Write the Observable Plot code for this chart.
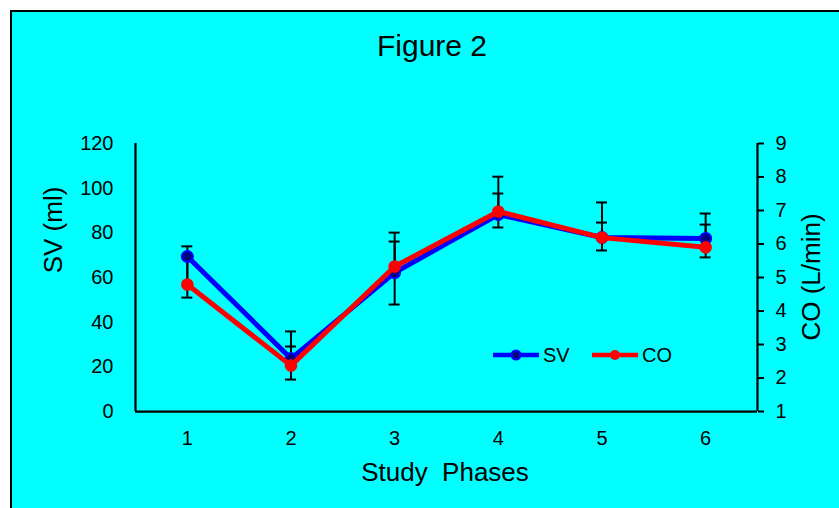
<!DOCTYPE html>
<html>
<head>
<meta charset="utf-8">
<script src="https://cdn.jsdelivr.net/npm/d3@7"></script>
<script src="https://cdn.jsdelivr.net/npm/@observablehq/plot@0.6"></script>
<style>
  html, body { margin: 0; padding: 0; background: #ffffff; overflow: hidden; width: 839px; height: 508px; }
  #bg { position: absolute; left: 10px; top: 10px; width: 900px; height: 600px; border: 2px solid #000; background: #00FFFF; }
  #chart { position: absolute; left: 0; top: 0; }
  text { font-family: "Liberation Sans", Arial, sans-serif; }
</style>
</head>
<body>
<div id="bg"></div>
<div id="chart"></div>
<script>
// ---- data ----
const phases = [1, 2, 3, 4, 5, 6];
const svMean = [69.4, 23.7, 62.2, 88.2, 77.9, 77.5];      // SV (ml)
const svErrUp = [0, 5.4, 13.9, 9.4, 6.7, 6.2];
const svErrDown = [18.4, 9.4, 14.3, 5.8, 5.8, 8.5];
const coMean = [4.79, 2.37, 5.33, 6.97, 6.19, 5.90];      // CO (L/min)
const coErrUp = [1.14, 1.02, 1.01, 1.04, 1.05, 1.01];
const svTicks = [0, 20, 40, 60, 80, 100, 120];
const coTicks = [1, 2, 3, 4, 5, 6, 7, 8, 9];
const seriesNames = ["SV", "CO"];

// CO axis (1..9) mapped onto the SV axis (0..120)
const coMin = coTicks[0], coMax = coTicks[coTicks.length - 1];
const svMin = svTicks[0], svMax = svTicks[svTicks.length - 1];
const toSV = c => svMin + (c - coMin) / (coMax - coMin) * (svMax - svMin);
const fromSV = v => coMin + (v - svMin) / (svMax - svMin) * (coMax - coMin);

const svRows = phases.map((p, i) => ({phase: p, v: svMean[i]}));
const coRows = phases.map((p, i) => ({phase: p, v: toSV(coMean[i])}));

const segs = [];
const caps = [];
phases.forEach((p, i) => {
  if (svErrUp[i] > 0) { segs.push({phase: p, y1: svMean[i], y2: svMean[i] + svErrUp[i]}); caps.push({phase: p, y: svMean[i] + svErrUp[i]}); }
  if (svErrDown[i] > 0) { segs.push({phase: p, y1: svMean[i], y2: svMean[i] - svErrDown[i]}); caps.push({phase: p, y: svMean[i] - svErrDown[i]}); }
  if (coErrUp[i] > 0) { segs.push({phase: p, y1: toSV(coMean[i]), y2: toSV(coMean[i] + coErrUp[i])}); caps.push({phase: p, y: toSV(coMean[i] + coErrUp[i])}); }
});
const capHalf = 0.053;

const W = 839, H = 508;
const svg = Plot.plot({
  width: W,
  height: H,
  marginLeft: 135,
  marginRight: 82,
  marginTop: 143,
  marginBottom: 97,
  style: {background: "transparent", fontFamily: "'Liberation Sans', Arial, sans-serif", fontSize: "20px", color: "#000"},
  x: {type: "linear", domain: [0.5, 6.5]},
  y: {domain: [svMin, svMax]},
  marks: [
    Plot.axisX(phases, {tickSize: 0, tickPadding: 19, fontSize: 20, label: null, tickFormat: d => String(d)}),
    Plot.axisY(svTicks, {anchor: "left", tickSize: 0, tickPadding: 22, fontSize: 20, label: null}),
    Plot.axisY(coTicks.map(toSV), {anchor: "right", tickSize: 6, tickPadding: 12, strokeWidth: 2, fontSize: 20, label: null, tickFormat: d => String(Math.round(fromSV(d)))}),
    Plot.ruleX([0.5, 6.5], {stroke: "#000", strokeWidth: 2.25}),
    Plot.ruleY([svMin], {stroke: "#000", strokeWidth: 2.25}),
    Plot.ruleX(segs, {x: "phase", y1: "y1", y2: "y2", stroke: "#000", strokeWidth: 2}),
    Plot.ruleY(caps, {y: "y", x1: d => d.phase - capHalf, x2: d => d.phase + capHalf, stroke: "#000", strokeWidth: 2}),
    Plot.line(svRows, {x: "phase", y: "v", stroke: "#0000FF", strokeWidth: 5}),
    Plot.dot(svRows, {x: "phase", y: "v", r: 5.5, fill: "#000080", stroke: "#0000FF", strokeWidth: 2}),
    Plot.line(coRows, {x: "phase", y: "v", stroke: "#FF0000", strokeWidth: 5}),
    Plot.dot(coRows, {x: "phase", y: "v", r: 6.3, fill: "#FF0000", stroke: "none"})
  ]
});

const s = d3.select(svg);
const ff = "'Liberation Sans', Arial, sans-serif";
s.append("text").attr("x", 432).attr("y", 56).attr("text-anchor", "middle")
  .attr("font-size", 30).attr("font-family", ff).attr("fill", "#000").text("Figure 2");
s.append("text").attr("x", 445).attr("y", 481).attr("text-anchor", "middle")
  .attr("font-size", 26).attr("font-family", ff).attr("fill", "#000").style("white-space", "pre").text("Study  Phases");
s.append("text").attr("transform", "translate(62,230) rotate(-90)").attr("text-anchor", "middle")
  .attr("font-size", 26).attr("font-family", ff).attr("fill", "#000").text("SV (ml)");
s.append("text").attr("transform", "translate(820,277) rotate(-90)").attr("text-anchor", "middle")
  .attr("font-size", 26).attr("font-family", ff).attr("fill", "#000").text("CO (L/min)");

// legend
const leg = [
  {name: seriesNames[0], x0: 493, color: "#0000FF", fill: "#000080", r: 4.5},
  {name: seriesNames[1], x0: 592, color: "#FF0000", fill: "#FF0000", r: 5}
];
const lg = s.append("g");
leg.forEach(d => {
  lg.append("line").attr("x1", d.x0).attr("x2", d.x0 + 46).attr("y1", 355).attr("y2", 355)
    .attr("stroke", d.color).attr("stroke-width", 4.5);
  lg.append("circle").attr("cx", d.x0 + 23).attr("cy", 355).attr("r", d.r)
    .attr("fill", d.fill).attr("stroke", d.color).attr("stroke-width", d.name === "SV" ? 2 : 0);
  lg.append("text").attr("x", d.x0 + 50).attr("y", 362).attr("font-size", 20).attr("text-anchor", "start")
    .attr("font-family", ff).attr("fill", "#000").text(d.name);
});

document.getElementById("chart").appendChild(svg);
</script>
</body>
</html>
